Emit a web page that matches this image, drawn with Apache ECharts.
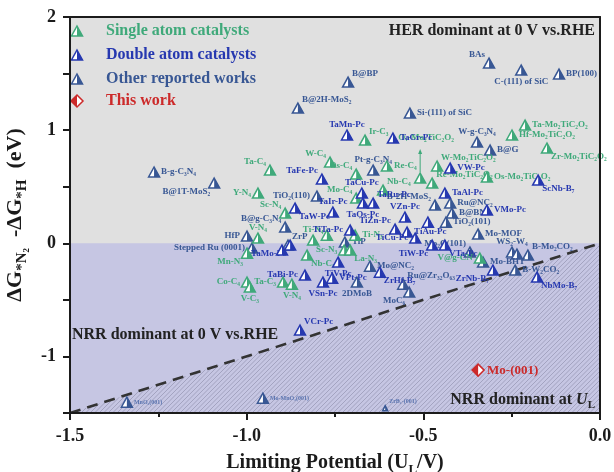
<!DOCTYPE html>
<html>
<head>
<meta charset="utf-8">
<script src="https://cdn.jsdelivr.net/npm/echarts@6/dist/echarts.min.js"></script>
<style>
  html, body { margin: 0; padding: 0; background: #fff; }
  #chart { width: 614px; height: 472px; }
</style>
</head>
<body>
<div id="chart"></div>
<script>
// ---- Data: limiting potential U_L (V) and ΔG*N2 - ΔG*H (eV) ----
const uRange = [-1.5, 0];
const dgRange = [-1.5, 2];
const xTicks = [-1.5, -1.0, -0.5, 0.0];
const yTicks = [-1, 0, 1, 2];

// Single atom catalysts
const singleNames = ['Ta-Mo₂TiC₂O₂', 'Hf-Mo₂TiC₂O₂', 'Zr-Mo₂TiC₂O₂', 'Ir-C₃', 'Ta-C₄', 'W-C₄', 'Os-C₄', 'Re-C₄',
  'Nb-C₄', 'Mo-C₄', 'Oᵥ-Mo₂TiC₂O₂', 'W-Mo₂TiC₂O₂', 'Re-Mo₂TiC₂O₂', 'Os-Mo₂TiC₂O₂', 'Y-N₄', 'Sc-N₄', 'V-N₄',
  'Ti-N₄', 'Ti-N₃', 'Sc-N₃', 'La-N₃', 'Nb-C₃', 'Mn-N₃', 'Co-C₄', 'V-C₃', 'Ta-C₃', 'V-N₄', 'V@g-CN', ''];
const singleU = [-0.212, -0.249, -0.150, -0.665, -0.934, -0.764, -0.690, -0.603,
  -0.614, -0.690, -0.509, -0.461, -0.475, -0.320, -0.968, -0.891, -0.968,
  -0.812, -0.693, -0.724, -0.707, -0.829, -0.999, -0.999, -0.991, -0.897, -0.872, -0.340, -0.773];
const singleDG = [1.045, 0.957, 0.842, 0.912, 0.647, 0.718, 0.612, 0.683,
  0.470, 0.400, 0.576, 0.683, 0.532, 0.585, 0.444, 0.267, 0.046,
  0.028, 0.072, -0.060, -0.060, -0.104, -0.087, -0.343, -0.387, -0.343, -0.361, -0.131, 0.072];

// Double atom catalysts
const doubleNames = ['TaMn-Pc', 'TaCr-Pc', 'TaFe-Pc', 'TaCu-Pc', 'VW-Pc', 'ScNb-B₇', 'TaAl-Pc', 'VMo-Pc',
  'TaIr-Pc', 'TaOs-Pc', 'TaRu-Pc', 'VZn-Pc', 'TiZn-Pc', 'TiTa-Pc', 'TiAu-Pc', '', 'TiCu-Pc', 'TiW-Pc',
  'VTa-Pc', 'TaW-Pc', 'TaMo-Pc', 'TaBi-Pc', 'TiV-Pc', 'VPt-Pc', 'VSn-Pc', 'ZrHf-B₇', 'VCr-Pc',
  'ZrNb-B₇', 'NbMo-B₇', ''];
const doubleU = [-0.716, -0.586, -0.787, -0.674, -0.424, -0.175, -0.439, -0.320,
  -0.756, -0.671, -0.642, -0.552, -0.580, -0.707, -0.546, -0.487, -0.523, -0.475,
  -0.439, -0.863, -0.877, -0.835, -0.741, -0.758, -0.784, -0.623, -0.849,
  -0.303, -0.178, -0.900];
const doubleDG = [0.957, 0.930, 0.568, 0.444, 0.665, 0.559, 0.444, 0.294,
  0.276, 0.355, 0.355, 0.232, 0.126, 0.117, 0.099, 0.187, 0.046, -0.016,
  -0.016, 0.311, -0.016, -0.281, -0.166, -0.308, -0.343, -0.255, -0.767,
  -0.237, -0.299, -0.060];

// Other reported works
const otherNames = ['BAs', 'C-(111) of SiC', 'BP(100)', 'B@BP', 'B@2H-MoS₂', 'Si-(111) of SiC', 'W-g-C₃N₄',
  'B@G', 'Pt-g-C₃N₄', 'B-2H-MoS₂', 'Ru@NC₂', 'B@BN', 'TiO₂(101)', 'Mo-MOF', 'Mo₂C(101)', 'WS₂-W₄', '',
  'B-Mo₂CO₂', 'Mo-BHT', 'B-W₂CO₂', 'Ru@Zr₃₂O₆₃', 'MoC₆', 'Mo@NC₂', '2DMoB', 'TiP', 'ZrP', 'TiO₂(110)',
  'B@g-C₃N₄', 'HfP', 'Stepped Ru (0001)', 'B-g-C₃N₄', 'B@1T-MoS₂', 'MnO₂(001)', 'Mo-MnO₂(001)', 'ZrB₂-(001)'];
const otherU = [-0.314, -0.223, -0.116, -0.713, -0.855, -0.538, -0.348,
  -0.311, -0.642, -0.467, -0.424, -0.419, -0.436, -0.345, -0.368, -0.249, -0.235,
  -0.204, -0.331, -0.240, -0.557, -0.540, -0.651, -0.688, -0.722, -0.883, -0.801,
  -0.891, -0.999, -0.985, -1.262, -1.092, -1.339, -0.954, -0.608];
const otherDG = [1.593, 1.531, 1.496, 1.425, 1.195, 1.151, 0.895,
  0.824, 0.647, 0.338, 0.355, 0.267, 0.187, 0.081, -0.078, -0.078, -0.095,
  -0.104, -0.166, -0.237, -0.361, -0.431, -0.202, -0.343, 0.011, -0.016, 0.417,
  0.143, 0.064, -0.042, 0.630, 0.532, -1.404, -1.369, -1.457];

// This work
const thisNames = ['Mo-(001)'];
const thisU = [-0.345];
const thisDG = [-1.121];

// ---- Label layout (side of the marker each name sits on) ----
const singleSide = ['r', 'r', 'br', 'tr', 'tl', 'tl', 'tl', 'r',
  'tr', 'tl', 'arrow', 'tr', 'tr', 'r', 'l', 'tl', 't',
  't', 'r', 'l', 'br', 'br', 'bl', 'l', 'b', 'l', 'b', 'l', ''];
const doubleSide = ['t', 'r', 'tl', 't', 'r', 'br', 'r', 'r',
  't', 'b', 'tr', 't', 'tl', 'l', 'r', '', 'l', 'bl',
  'br', 'br', 'bl', 'l', 'b', 'r', 'b', 'br', 'tr',
  'bl', 'br', ''];
const otherSide = ['tl', 'b', 'r', 'tr', 'tr', 'r', 't',
  'r', 't', 'tl', 'r', 'r', 'r', 'r', 'tl', 't', '',
  'tr', 'r', 'r', 'tr', 'bl', 'r', 'b', 'r', 'tr', 'l',
  'tl', 'l', 'l', 'r', 'bl', 'r', 'r', 'tr'];
const thisSide = ['r'];
const faintRefs = ['MnO₂(001)', 'Mo-MnO₂(001)', 'ZrB₂-(001)'];

// ---- Styling ----
const SERIF = '"Liberation Serif", "Times New Roman", serif';
const GREEN = '#3fa97a';
const BLUE = '#2638b0';
const STEEL = '#385794';
const RED = '#cc2a2a';
const INK = '#1b1b1b';
const HER_BG = '#e0e0e0';
const NRR_BG = '#c6c6e3';
const HATCH = '#a3a3c0';

function triangle(cx, cy, w, h, color) {
  return [
    { type: 'polygon', shape: { points: [[cx, cy - h / 2], [cx + w / 2, cy + h / 2], [cx - w / 2, cy + h / 2]] },
      style: { fill: '#fff', stroke: color, lineWidth: 1.5, lineJoin: 'miter' } },
    { type: 'polygon', shape: { points: [[cx, cy - h / 2], [cx + w / 2, cy + h / 2], [cx, cy + h / 2]] },
      style: { fill: color } }
  ];
}
function diamond(cx, cy, r, color) {
  return [
    { type: 'polygon', shape: { points: [[cx, cy - r], [cx + r, cy], [cx, cy + r], [cx - r, cy]] },
      style: { fill: '#fff', stroke: color, lineWidth: 1.5 } },
    { type: 'polygon', shape: { points: [[cx, cy - r], [cx - r, cy], [cx, cy + r]] },
      style: { fill: color } }
  ];
}
function labelEl(x, y, text, side, color, size) {
  let tx = x, ty = y, align = 'left', va = 'middle';
  const g = 7, d = 4;
  if (side === 'r') { tx = x + g; }
  else if (side === 'l') { tx = x - g; align = 'right'; }
  else if (side === 't') { ty = y - g + 1; align = 'center'; va = 'bottom'; }
  else if (side === 'b') { ty = y + g; align = 'center'; va = 'top'; }
  else if (side === 'tr') { tx = x + d; ty = y - d; va = 'bottom'; }
  else if (side === 'tl') { tx = x - d; ty = y - d; align = 'right'; va = 'bottom'; }
  else if (side === 'br') { tx = x + d; ty = y + d; va = 'top'; }
  else if (side === 'bl') { tx = x - d; ty = y + d; align = 'right'; va = 'top'; }
  return { type: 'text', style: { text, x: tx, y: ty, fill: color, align, verticalAlign: va,
    font: 'bold ' + size + 'px ' + SERIF } };
}

function markerSeries(name, names, us, dgs, sides, color, shape) {
  return {
    type: 'custom', name, coordinateSystem: 'cartesian2d', z: 5,
    data: us.map((u, i) => [u, dgs[i]]),
    encode: { x: 0, y: 1 },
    renderItem(params, api) {
      const p = api.coord([api.value(0), api.value(1)]);
      const i = params.dataIndex;
      const label = names[i];
      const side = sides[i];
      const faint = faintRefs.indexOf(label) >= 0;
      let children;
      if (shape === 'diamond') children = diamond(p[0], p[1], 6, color);
      else if (label === 'ZrB₂-(001)') children = triangle(p[0], p[1], 5, 5, color);
      else children = triangle(p[0], p[1], 11, 10, color);
      if (label) {
        if (side === 'arrow') {
          children.push({ type: 'line', shape: { x1: p[0], y1: p[1] - 6, x2: p[0], y2: p[1] - 27 },
            style: { stroke: color, lineWidth: 1 } });
          children.push({ type: 'polygon', shape: { points: [[p[0], p[1] - 29], [p[0] - 2, p[1] - 24], [p[0] + 2, p[1] - 24]] },
            style: { fill: color } });
          children.push(labelEl(p[0] + 6, p[1] - 30, label, 't', color, 9));
        } else if (shape === 'diamond') {
          children.push(labelEl(p[0] + 2, p[1] + 1, label, side, color, 13));
        } else {
          children.push(labelEl(p[0], p[1], label, side, faint ? '#5a74b0' : color, faint ? 6 : 9));
        }
      }
      return { type: 'group', children };
    }
  };
}

// Cut the stripe x + y = k (screen space) by a convex polygon
function stripeSegment(k, pts) {
  const hits = [];
  for (let i = 0; i < pts.length; i++) {
    const p = pts[i], q = pts[(i + 1) % pts.length];
    const s1 = p[0] + p[1] - k, s2 = q[0] + q[1] - k;
    if ((s1 <= 0 && s2 >= 0) || (s1 >= 0 && s2 <= 0)) {
      if (s1 === s2) continue;
      const t = s1 / (s1 - s2);
      hits.push([p[0] + t * (q[0] - p[0]), p[1] + t * (q[1] - p[1])]);
    }
  }
  if (hits.length < 2) return null;
  hits.sort((m, n) => m[0] - n[0]);
  return [hits[0], hits[hits.length - 1]];
}

// Background regions: HER (grey, grid background), NRR (lavender), NRR at U_L (hatched)
const regionSeries = {
  type: 'custom', coordinateSystem: 'cartesian2d', z: 1, silent: true,
  data: [[uRange[0], dgRange[0]]],
  encode: { x: 0, y: 1 },
  renderItem(params, api) {
    const tl = api.coord([uRange[0], 0]);
    const br = api.coord([uRange[1], dgRange[0]]);
    const a = api.coord([uRange[0], uRange[0]]);
    const b = api.coord([uRange[1], uRange[1]]);
    const tri = [a, b, br];
    const children = [
      { type: 'rect', shape: { x: tl[0], y: tl[1], width: br[0] - tl[0], height: br[1] - tl[1] }, style: { fill: NRR_BG } }
    ];
    const kMin = Math.min(...tri.map(p => p[0] + p[1]));
    const kMax = Math.max(...tri.map(p => p[0] + p[1]));
    for (let k = kMin + 2; k < kMax; k += 4.5) {
      const seg = stripeSegment(k, tri);
      if (!seg) continue;
      children.push({ type: 'line', shape: { x1: seg[0][0], y1: seg[0][1], x2: seg[1][0], y2: seg[1][1] },
        style: { stroke: HATCH, lineWidth: 1 } });
    }
    return { type: 'group', children };
  }
};

const boundarySeries = {
  type: 'line', z: 3, silent: true, symbol: 'none',
  data: [[uRange[0], uRange[0]], [uRange[1], uRange[1]]],
  lineStyle: { color: '#333', width: 2.6, type: [11, 7] }
};

const axisLineStyle = { color: INK, width: 2 };
const chart = echarts.init(document.getElementById('chart'), null, { renderer: 'canvas' });

function legendRow(y, text, color, shape) {
  const m = shape === 'diamond' ? diamond(77, y, 6, color) : triangle(77, y, 11, 10, color);
  return m.concat([{ type: 'text', style: { text, x: 106, y, fill: color, verticalAlign: 'middle',
    font: 'bold 16px ' + SERIF } }]);
}

chart.setOption({
  animation: false,
  backgroundColor: '#fff',
  grid: { left: 70, right: 14, top: 17, bottom: 59, show: true, backgroundColor: HER_BG, borderWidth: 0,
    containLabel: false, outerBoundsMode: 'none' },
  xAxis: [{
    type: 'value', min: uRange[0], max: uRange[1], interval: 0.5, position: 'bottom', z: 10,
    axisLine: { onZero: false, lineStyle: axisLineStyle },
    axisTick: { length: 7, lineStyle: axisLineStyle },
    minorTick: { show: true, splitNumber: 2, length: 4, lineStyle: axisLineStyle },
    splitLine: { show: false },
    axisLabel: { margin: 14, color: INK, fontFamily: SERIF, fontWeight: 'bold', fontSize: 18,
      formatter: v => (xTicks.some(t => Math.abs(t - v) < 1e-6) ? v.toFixed(1) : '') },
    name: '{m|Limiting Potential (U}{s|L}{m|/V)}',
    nameLocation: 'middle', nameGap: 31,
    nameTextStyle: { rich: {
      m: { fontFamily: SERIF, fontWeight: 'bold', fontSize: 20, color: INK, lineHeight: 26 },
      s: { fontFamily: SERIF, fontWeight: 'bold', fontSize: 13, color: INK, lineHeight: 13, padding: [13, 0, 0, 0] }
    } }
  }, {
    type: 'value', min: uRange[0], max: uRange[1], position: 'top', z: 10,
    axisLine: { onZero: false, lineStyle: axisLineStyle },
    axisTick: { show: false }, axisLabel: { show: false }, splitLine: { show: false }
  }],
  yAxis: [{
    type: 'value', min: dgRange[0], max: dgRange[1], interval: 0.5, position: 'left', z: 10,
    axisLine: { onZero: false, lineStyle: axisLineStyle },
    axisTick: { length: 7, lineStyle: axisLineStyle },
    splitLine: { show: false },
    axisLabel: { margin: 14, color: INK, fontFamily: SERIF, fontWeight: 'bold', fontSize: 18,
      formatter: v => (yTicks.some(t => Math.abs(t - v) < 1e-6) ? String(Math.round(v)) : '') },
    name: '{m|ΔG}{s|*N₂}{m|  -ΔG}{s|*H}{m|  (eV)}',
    nameLocation: 'middle', nameGap: 33, nameRotate: 90,
    nameTextStyle: { rich: {
      m: { fontFamily: SERIF, fontWeight: 'bold', fontSize: 22, color: INK, lineHeight: 28 },
      s: { fontFamily: SERIF, fontWeight: 'bold', fontSize: 15, color: INK, lineHeight: 15, padding: [14, 0, 0, 0] }
    } }
  }, {
    type: 'value', min: dgRange[0], max: dgRange[1], position: 'right', z: 10,
    axisLine: { onZero: false, lineStyle: axisLineStyle },
    axisTick: { show: false }, axisLabel: { show: false }, splitLine: { show: false }
  }],
  series: [
    regionSeries,
    boundarySeries,
    markerSeries('Other reported works', otherNames, otherU, otherDG, otherSide, STEEL, 'triangle'),
    markerSeries('Single atom catalysts', singleNames, singleU, singleDG, singleSide, GREEN, 'triangle'),
    markerSeries('Double atom catalysts', doubleNames, doubleU, doubleDG, doubleSide, BLUE, 'triangle'),
    markerSeries('This work', thisNames, thisU, thisDG, thisSide, RED, 'diamond')
  ],
  graphic: [
    { type: 'group', z: 20, children: []
      .concat(legendRow(31, 'Single atom catalysts', GREEN, 'triangle'))
      .concat(legendRow(55, 'Double atom catalysts', BLUE, 'triangle'))
      .concat(legendRow(79, 'Other reported works', STEEL, 'triangle'))
      .concat(legendRow(101, 'This work', RED, 'diamond')) },
    { type: 'text', z: 20, style: { text: 'HER dominant at 0 V vs.RHE', x: 595, y: 31, align: 'right',
      verticalAlign: 'middle', fill: '#222', font: 'bold 16px ' + SERIF } },
    { type: 'text', z: 20, style: { text: 'NRR dominant at 0 V vs.RHE', x: 72, y: 335, align: 'left',
      verticalAlign: 'middle', fill: '#222', font: 'bold 16px ' + SERIF } },
    { type: 'text', z: 20, style: { text: '{a|NRR dominant at }{u|U}{l|L}', x: 595, y: 400, align: 'right',
      verticalAlign: 'middle', rich: {
        a: { fontFamily: SERIF, fontWeight: 'bold', fontSize: 16, fill: '#222', lineHeight: 20 },
        u: { fontFamily: SERIF, fontWeight: 'bold', fontStyle: 'italic', fontSize: 16, fill: '#222', lineHeight: 20 },
        l: { fontFamily: SERIF, fontWeight: 'bold', fontSize: 11, fill: '#222', lineHeight: 11, padding: [11, 0, 0, 0] }
      } } }
  ]
});
</script>
</body>
</html>
